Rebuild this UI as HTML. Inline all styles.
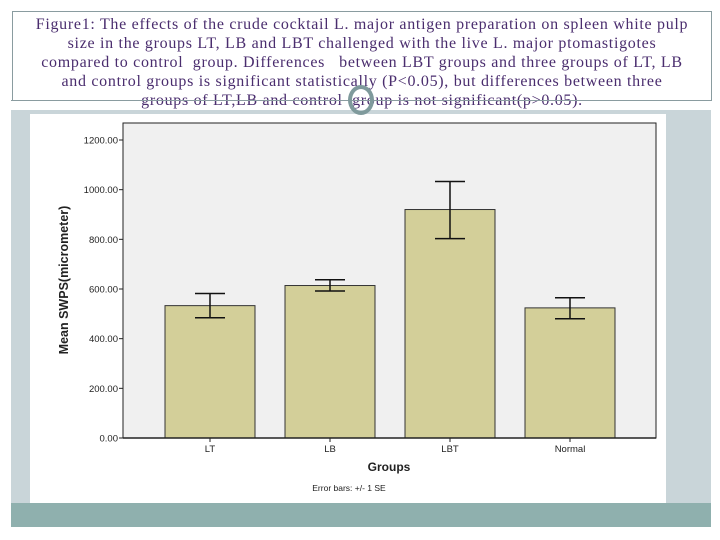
<!DOCTYPE html>
<html><head><meta charset="utf-8"><style>
html,body{margin:0;padding:0;background:#fff;}
#root{position:relative;width:720px;height:540px;overflow:hidden;background:#fff;font-family:"Liberation Sans",sans-serif;}
#title{position:absolute;left:12px;top:11px;width:698px;height:89px;border:1px solid #8a9ca0;border-bottom:none;}
#title p{margin:0;padding-top:3px;text-align:center;font-family:"Liberation Serif",serif;font-size:16px;line-height:19px;color:#4a2d6e;white-space:nowrap;letter-spacing:0.7px;}
#divider{position:absolute;left:11px;top:100px;width:700px;height:1px;background:#8a9ca0;}
#pattern{position:absolute;left:11px;top:110px;width:700px;height:393px;background:#c9d5d9;}
#band{position:absolute;left:11px;top:503px;width:700px;height:24px;background:#8fb0ae;}
#white{position:absolute;left:30px;top:114px;width:636px;height:389px;background:#fff;}
#ring{position:absolute;left:348px;top:85px;width:26px;height:30px;border:4px solid #7f9a9c;border-radius:50%;box-sizing:border-box;}
svg{position:absolute;left:0;top:0;}
</style></head><body>
<div id="root">
<div id="title"><p>Figure1: The effects of the crude cocktail L. major antigen preparation on spleen white pulp<br>size in the groups LT, LB and LBT challenged with the live L. major ptomastigotes<br>compared to control&nbsp; group. Differences&nbsp;&nbsp; between LBT groups and three groups of LT, LB<br>and control groups is significant statistically (P&lt;0.05), but differences between three<br>groups of LT,LB and control&nbsp; group is not significant(p&gt;0.05).</p></div>
<div id="divider"></div>
<div id="pattern"></div>
<div id="band"></div>
<div id="white"></div>
<div id="ring"></div>
<svg id="chart" width="720" height="540"></svg>
</div>
<script>
const categories=["LT","LB","LBT","Normal"];
const means=[533,614,920,524];
const errUpper=[582,637,1033,565];
const errLower=[484,592,803,480];
const yTicks=[0,200,400,600,800,1000,1200];
const tickLabels=["0.00","200.00","400.00","600.00","800.00","1000.00","1200.00"];

const NS="http://www.w3.org/2000/svg";
const svg=document.getElementById('chart');
const L=123,R=656,T=123,B=438,yMax=1200,yTop=140;
function y(v){return B-(B-yTop)*v/yMax;}
const step=120,firstC=210;
function xc(i){return firstC+step*i;}
const bw=90;
function mk(tag,attrs){const e=document.createElementNS(NS,tag);for(const k in attrs)e.setAttribute(k,attrs[k]);svg.appendChild(e);return e;}
let e=mk('rect',{x:L,y:T,width:R-L,height:B-T,fill:'#f0f0f0',stroke:'#222','stroke-width':1});


yTicks.forEach((v,i)=>{
 let t=mk('line',{x1:L-4,x2:L,y1:y(v),y2:y(v),stroke:'#222'});
 
 
 let tx=mk('text',{x:L-5,y:y(v)+3.5,'text-anchor':'end','font-size':9.5,fill:'#222'});
 tx.textContent=tickLabels[i];
 
 
});
categories.forEach((c,i)=>{
 const cx=xc(i);
 let b=mk('rect',{x:cx-bw/2,y:y(means[i]),width:bw,height:B-y(means[i]),fill:'#d3cf99',stroke:'#333','stroke-width':1});
 
 
 let g=mk('path',{d:`M${cx},${y(errUpper[i])}V${y(errLower[i])}M${cx-15},${y(errUpper[i])}H${cx+15}M${cx-15},${y(errLower[i])}H${cx+15}`,stroke:'#111','stroke-width':1.5,fill:'none'});
 
 
 let t=mk('line',{x1:cx,x2:cx,y1:B,y2:B+4,stroke:'#222'});
 
 
 let tx=mk('text',{x:cx,y:B+14,'text-anchor':'middle','font-size':9.5,fill:'#222'});
 tx.textContent=c;
 
 
});
let xl=mk('line',{x1:L,x2:R,y1:B,y2:B,stroke:'#222','stroke-width':1.5});


let xt=mk('text',{x:389,y:471,'text-anchor':'middle','font-size':12,'font-weight':'bold',fill:'#222'});
xt.textContent='Groups';


let yt=mk('text',{x:0,y:0,'text-anchor':'middle','font-size':12.5,'font-weight':'bold',fill:'#222',transform:'translate(68,280) rotate(-90)'});
yt.textContent='Mean SWPS(micrometer)';


let n=mk('text',{x:349,y:491,'text-anchor':'middle','font-size':8.5,fill:'#222'});
n.textContent='Error bars: +/- 1 SE';


</script>
</body></html>
